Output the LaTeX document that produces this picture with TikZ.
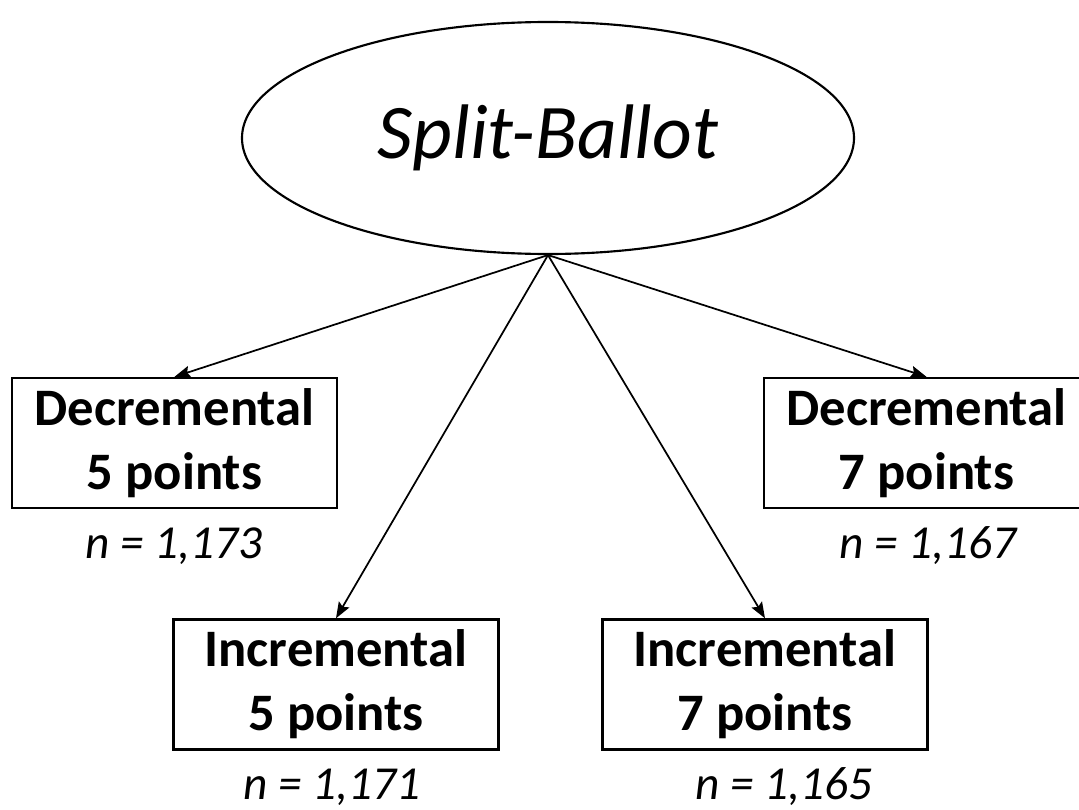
\documentclass[tikz,border=0pt]{standalone}
\usepackage{fontspec}
\setmainfont{Carlito}
\usetikzlibrary{arrows.meta,shapes}

\begin{document}
\begin{tikzpicture}[x=0.75pt,y=-0.75pt,
  arm/.style={-{Stealth[length=12pt,width=9pt,inset=2pt]},line width=1.3pt},
  cond/.style={draw,line width=1.8pt,minimum width=243.75pt,minimum height=97.5pt,
    align=center,inner sep=0pt,font=\bfseries\fontsize{39.5}{48}\selectfont},
  size/.style={font=\itshape\fontsize{35.5}{42}\selectfont}]
\useasboundingbox (0,0) rectangle (1079,810);
\node [ellipse,draw,line width=1.6pt,minimum width=459pt,minimum height=174pt,inner sep=0pt,
  font=\itshape\fontsize{58}{68}\selectfont] (ballot) at (548,138) {Split-Ballot};
% the four conditions
\node [cond] (dec5) at (174.5,443) {Decremental\\5 points};
\node [cond] (inc5) at (336,684.5) {Incremental\\5 points};
\node [cond] (inc7) at (765,684.5) {Incremental\\7 points};
\node [cond] (dec7) at (926.5,443) {Decremental\\7 points};
% sample sizes
\node [size] (ndec5) at (174,546) {n = 1,173};
\node [size] (ninc5) at (332,787) {n = 1,171};
\node [size] (ninc7) at (784,787) {n = 1,165};
\node [size] (ndec7) at (928,546) {n = 1,167};
\draw [arm] (ballot.south) -- (dec5.north);
\draw [arm] (ballot.south) -- (inc5.north);
\draw [arm] (ballot.south) -- (inc7.north);
\draw [arm] (ballot.south) -- (dec7.north);
\end{tikzpicture}
\end{document}
